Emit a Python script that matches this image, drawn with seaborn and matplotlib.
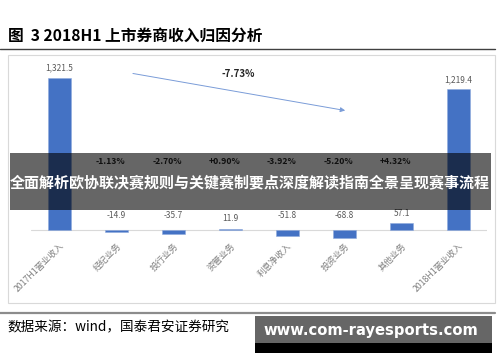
import matplotlib
matplotlib.use("Agg")
import matplotlib.pyplot as plt
import seaborn as sns
import pandas as pd
from matplotlib.lines import Line2D
from matplotlib.patches import Rectangle

categories = ['2017H1营业收入', '经纪业务', '投行业务', '资管业务', '利息净收入', '投资业务', '其他业务', '2018H1营业收入']
values = [1321.5, -14.9, -35.7, 11.9, -51.8, -68.8, 57.1, 1219.4]
pct_labels = ['-1.13%', '-2.70%', '+0.90%', '-3.92%', '-5.20%', '+4.32%']
total_change = '-7.73%'
title = '图  3 2018H1 上市券商收入归因分析'
source = '数据来源：wind，国泰君安证券研究'
banner = '全面解析欧协联决赛规则与关键赛制要点深度解读指南全景呈现赛事流程'
watermark = 'www.com-rayesports.com'

sns.set_theme(style='white')
plt.rcParams['font.family'] = ['Noto Sans CJK SC', 'DejaVu Sans']

W, H = 500, 362
fig = plt.figure(figsize=(5, 3.62), dpi=100)

def fx(px):
    return px / W

def fy(py):
    return 1 - py / H

# chart frame box
fig.add_artist(Rectangle((fx(8), fy(303)), fx(487), (303 - 55) / H, transform=fig.transFigure,
                         fill=False, edgecolor='#d9d9d9', lw=0.8))

# axes: baseline at py=230, top at py=60, bottom at py=240
top_px, base_px, bot_px = 60, 230, 240
scale = 1321.5 / (230 - 77.7)  # units per pixel
ax = fig.add_axes([fx(31), fy(bot_px), fx(487 - 31), (bot_px - top_px) / H])
df = pd.DataFrame({'cat': categories, 'val': values})
sns.barplot(data=df, x='cat', y='val', color='#4472C4', width=0.4, ax=ax,
            edgecolor='#8FAADC', linewidth=0.4, saturation=1)
ax.set_ylim(-(bot_px - base_px) * scale, (base_px - top_px) * scale)
ax.set_xlim(-0.5, 7.5)
ax.axhline(0, color='#d9d9d9', lw=0.8, zorder=0)
for s in ax.spines.values():
    s.set_visible(False)
ax.set_yticks([])
ax.set_xlabel('')
ax.set_ylabel('')
ax.patch.set_alpha(0)
ax.tick_params(axis='x', length=0, pad=1)
ax.set_xticks(range(len(categories)))
ax.set_xticklabels(categories, rotation=45, ha='right', va='top', rotation_mode='anchor',
                   fontsize=6.3, color='#7f7f7f')

# value labels
for i, v in enumerate(values):
    y = v + 10 * scale if v > 0 else 15 * scale
    ax.text(i, y, f'{v:,.1f}', ha='center', va='center', fontsize=6, color='#595959')

# percent labels
for i, p in enumerate(pct_labels, start=1):
    ax.text(i - 0.1, (230 - 162) * scale, p, ha='center', va='center', fontsize=6.2,
            fontweight='bold', color='#262626')

# arrow
ax.annotate('', xy=(5.06, (230 - 111) * scale), xytext=(1.24, (230 - 73) * scale),
            arrowprops=dict(arrowstyle='-|>', color='#7A9CD8', lw=0.7, mutation_scale=7))
ax.text(3.13, (230 - 74) * scale, total_change, ha='center', va='center', fontsize=7,
        fontweight='bold', color='#262626')

# title and rules
fig.text(fx(8), fy(36), title, ha='left', va='center', fontsize=11.3, fontweight='bold', color='black')
fig.add_artist(Line2D([0, fx(495)], [fy(49), fy(49)], transform=fig.transFigure, color='#404040', lw=1.0))
fig.add_artist(Line2D([0, fx(495)], [fy(313), fy(313)], transform=fig.transFigure, color='#8c8c8c', lw=1.6))
fig.text(fx(7), fy(327), source, ha='left', va='center', fontsize=9.8, color='black')

# banner overlay
fig.add_artist(Rectangle((fx(10), fy(210)), fx(481), (210 - 153) / H, transform=fig.transFigure,
                         facecolor='black', alpha=0.6, edgecolor='none'))
fig.text(fx(250), fy(183), banner, ha='center', va='center', fontsize=10.8, fontweight='bold', color='white')

# watermark box
fig.add_artist(Rectangle((fx(255), fy(352.5)), fx(237), (352.5 - 342.5) / H, transform=fig.transFigure,
                         facecolor='black', edgecolor='none'))
fig.add_artist(Rectangle((fx(255), fy(342.5)), fx(237), (342.5 - 316) / H, transform=fig.transFigure,
                         facecolor='#666666', edgecolor='none'))
fig.text(fx(371), fy(331), watermark, ha='center', va='center', fontsize=10.6, fontweight='bold',
         color='white', family=['DejaVu Sans'])

fig.savefig('out.png', dpi=100)
